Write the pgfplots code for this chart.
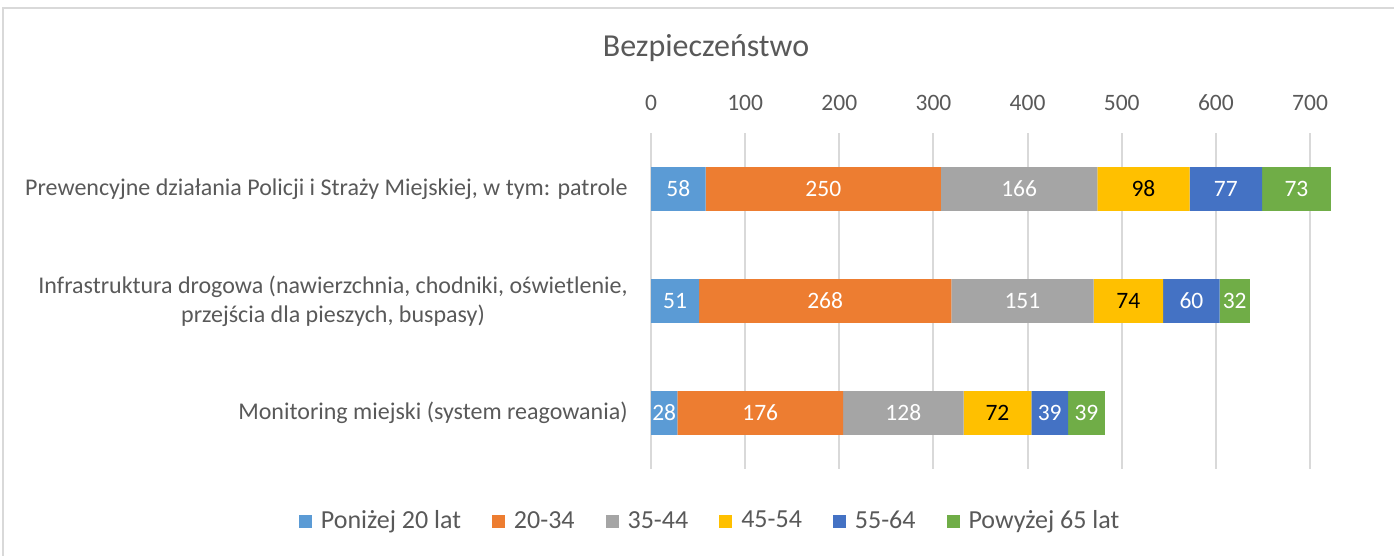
\documentclass[border=0pt]{standalone}
\usepackage{pgfplots}
\pgfplotsset{compat=1.18}
\usepackage{pgfplotstable}
\usepackage{fontspec}
\setmainfont{Carlito}
\definecolor{cA}{HTML}{5B9BD5}
\definecolor{cB}{HTML}{ED7D31}
\definecolor{cC}{HTML}{A5A5A5}
\definecolor{cD}{HTML}{FFC000}
\definecolor{cE}{HTML}{4472C4}
\definecolor{cF}{HTML}{70AD47}
\definecolor{txt}{HTML}{595959}
\definecolor{grd}{HTML}{D9D9D9}
\pgfplotstableread{
cat a b c d e f
0 58 250 166 98 77 73
1 51 268 151 74 60 32
2 28 176 128 72 39 39
}\data
\newcommand{\fs}{\fontsize{11.75bp}{14bp}\selectfont}
\begin{document}
\begin{tikzpicture}
\useasboundingbox (0bp,0bp) rectangle (697bp,278bp);
\draw[grd,line width=1bp] (1.5bp,0bp) -- (1.5bp,274bp) -- (697bp,274bp);
\node[txt,font=\fontsize{16bp}{19bp}\selectfont] at (353bp,254bp) {Bezpieczeństwo};
\begin{axis}[
  at={(325.5bp,43.5bp)}, anchor=south west,
  scale only axis,
  width=341.3bp, height=168bp,
  xbar stacked,
  bar width=0.392,
  xmin=0, xmax=725,
  ymin=-0.5, ymax=2.5,
  y dir=reverse,
  clip=false,
  xtick={0,100,...,700},
  ytick={0,1,2},
  yticklabels={{Prewencyjne działania Policji i Straży Miejskiej, w tym: patrole},
    {Infrastruktura drogowa (nawierzchnia, chodniki, oświetlenie,\\przejścia dla pieszych, buspasy)},
    {Monitoring miejski (system reagowania)}},
  xticklabel pos=upper,
  axis line style={draw=none},
  major tick length=0pt,
  xmajorgrids,
  grid style={grd,line width=1bp},
  tick label style={font=\fs, text=txt},
  /pgf/number format/assume math mode=true,
  xticklabel style={inner sep=0pt, yshift=11bp},
  yticklabel style={inner sep=0pt, xshift=-11.5bp, align=center,
     font=\fontsize{12bp}{14.5bp}\selectfont},
  point meta=explicit,
  nodes near coords,
  every node near coord/.append style={font=\fs, text=white, anchor=center},
  legend columns=6,
  legend style={draw=none, fill=none, at={(0.088,-0.155)}, anchor=center,
     font=\fontsize{13bp}{15bp}\selectfont, text=txt,
     /tikz/every odd column/.append style={column sep=2.5bp},
     /tikz/every even column/.append style={column sep=13.5bp}},
  legend cell align=left,
  sq/.style={legend image code/.code={\fill[##1] (0bp,-3.25bp) rectangle (6.5bp,3.25bp);}},
]
\addplot[fill=cA, draw=none, sq] table[x=a, y=cat, meta=a] {\data};
\addplot[fill=cB, draw=none, sq] table[x=b, y=cat, meta=b] {\data};
\addplot[fill=cC, draw=none, sq] table[x=c, y=cat, meta=c] {\data};
\addplot[fill=cD, draw=none, sq, every node near coord/.append style={text=black}] table[x=d, y=cat, meta=d] {\data};
\addplot[fill=cE, draw=none, sq] table[x=e, y=cat, meta=e] {\data};
\addplot[fill=cF, draw=none, sq] table[x=f, y=cat, meta=f] {\data};
\legend{Poniżej 20 lat, 20-34, 35-44, 45-54, 55-64, Powyżej 65 lat}
\end{axis}
\end{tikzpicture}
\end{document}
